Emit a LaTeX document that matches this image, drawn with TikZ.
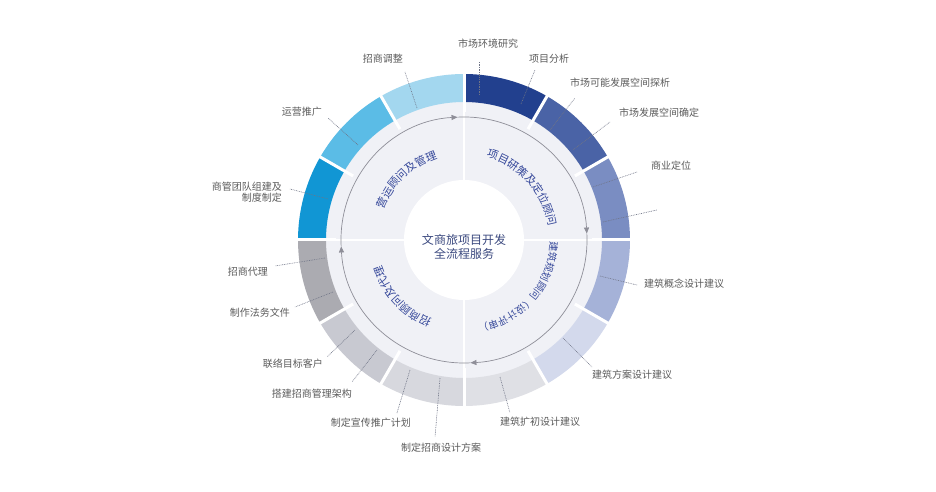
\documentclass[tikz,border=0pt]{standalone}
\usepackage{fontspec}
\setmainfont{Noto Sans CJK SC}
\usetikzlibrary{decorations.text,arrows.meta}
\definecolor{sA}{HTML}{22408E}
\definecolor{sB}{HTML}{4A63A6}
\definecolor{sC}{HTML}{7A8DC2}
\definecolor{sD}{HTML}{A5B2D8}
\definecolor{sE}{HTML}{D3D9EC}
\definecolor{sF}{HTML}{DFE0E5}
\definecolor{sG}{HTML}{D7D8DE}
\definecolor{sH}{HTML}{C8C9D1}
\definecolor{sI}{HTML}{ABABB1}
\definecolor{sJ}{HTML}{1196D4}
\definecolor{sK}{HTML}{5BBCE6}
\definecolor{sL}{HTML}{A3D7EF}
\definecolor{discfill}{HTML}{F0F1F6}
\definecolor{qtext}{HTML}{35479A}
\definecolor{ctext}{HTML}{3C4A80}
\definecolor{lbl}{HTML}{5B5B5B}
\definecolor{leadc}{HTML}{6F7486}
\definecolor{arrc}{HTML}{8E8E98}
\newcommand\qfont{\fontsize{11}{11}\selectfont}
\newcommand\qfontsm{\fontsize{10}{10}\selectfont}
\tikzset{
  lab/.style={font=\fontsize{10}{11}\selectfont, text=lbl, inner sep=0pt},
  leader/.style={draw=leadc, line width=0.6pt, dash pattern=on 0.8pt off 0.9pt},
  cyc/.style={draw=arrc, line width=0.7pt, -{Triangle[length=6pt,width=5pt]}},
  gap/.style={white, line width=3pt},
}
\begin{document}
\begin{tikzpicture}[x=1pt,y=1pt]
\useasboundingbox (-464,-252) rectangle (472,240);
\fill[white] (-464,-252) rectangle (472,240);
% inner disc
\fill[discfill] (0,0) circle[radius=139pt];
% outer ring segments
\foreach \a/\c in {90/sA,60/sB,30/sC,0/sD,-30/sE,-60/sF,-90/sG,-120/sH,-150/sI,180/sJ,150/sK,120/sL}{
  \fill[\c] (\a:138pt) arc[start angle=\a, end angle={\a-30}, radius=138pt]
    -- ({\a-30}:166pt) arc[start angle={\a-30}, end angle=\a, radius=166pt] -- cycle;
}
% white gaps
\foreach \a in {0,30,...,330}{ \draw[gap] (\a:128pt) -- (\a:170pt); }
\draw[white, line width=1.4pt] (-139,0) -- (139,0);
\draw[white, line width=1.4pt] (0,-139) -- (0,139);
% centre
\fill[white] (0,0) circle[radius=60pt];
\node[font=\fontsize{12}{14}\selectfont, text=ctext, align=center] (centre) at (0,-7) {文商旅项目开发\\全流程服务};
% cycle arrows
\foreach \s in {183,93,3,-87}{
  \draw[cyc] (\s:123pt) arc[start angle=\s, end angle={\s-90}, radius=123pt];
}
% quadrant texts
\path[decorate, decoration={text along path, text align=center, text color=qtext,
  text={|\qfont|项目研策及定位顾问}}] (87:86pt) arc[start angle=87, end angle=-3, radius=86pt];
\path[decorate, decoration={text along path, text align=center, text color=qtext,
  text={|\qfontsm|建筑规划顾问（设计评审）}}] (0:86pt) arc[start angle=0, end angle=-82, radius=86pt];
\path[decorate, decoration={text along path, text align=center, text color=qtext,
  text={|\qfont|招商顾问及代理}}] (-90:86pt) arc[start angle=-90, end angle=-185, radius=86pt];
\path[decorate, decoration={text along path, text align=center, text color=qtext,
  text={|\qfont|营运顾问及管理}}] (180:86pt) arc[start angle=180, end angle=87, radius=86pt];
% labels and leaders
\foreach \n/\ix/\iy/\ox/\oy/\lx/\ly/\t in {
  a/15/145/15/178/24/196/市场环境研究,
  b/57/136/71/170/85/181/项目分析,
  c/86/110/111/142/156/157/市场可能发展空间探析,
  d/109/90/146/118/195/127/市场发展空间确定,
  e/129/53/173/68/207/74/商业定位,
  g/136/-36/173/-45/220/-44/建筑概念设计建议,
  h/99/-98/128/-127/168/-135/建筑方案设计建议,
  i/36/-137/46/-173/76/-182/建筑扩初设计建议,
  j/-139/-18/-189/-26/-216/-32/招商代理,
  k/-131/-52/-169/-67/-204/-73/制作法务文件,
  l/-109/-90/-137/-117/-171/-124/联络目标客户,
  m/-87/-110/-112/-142/-152/-154/搭建招商管理架构,
  o/-54/-130/-67/-173/-93/-183/制定宣传推广计划,
  p/-24/-138/-29/-197/-23/-208/制定招商设计方案,
  q/-47/132/-59/168/-81/181/招商调整,
  r/-106/95/-136/122/-162/128/运营推广}{
  \coordinate (in\n) at (\ix,\iy);
  \coordinate (out\n) at (\ox,\oy);
  \node[lab] (lab\n) at (\lx,\ly) {\t};
  \draw[leader] (in\n) -- (out\n);
}
% unlabeled leader
\coordinate (inf) at (139,18);
\coordinate (outf) at (193,30);
\draw[leader] (inf) -- (outf);
% two-line label
\coordinate (ins) at (-136,41);
\coordinate (outs) at (-174,51);
\node[lab, align=right, anchor=east] (labs) at (-182,48) {商管团队组建及\\制度制定};
\draw[leader] (ins) -- (outs);
\end{tikzpicture}
\end{document}
